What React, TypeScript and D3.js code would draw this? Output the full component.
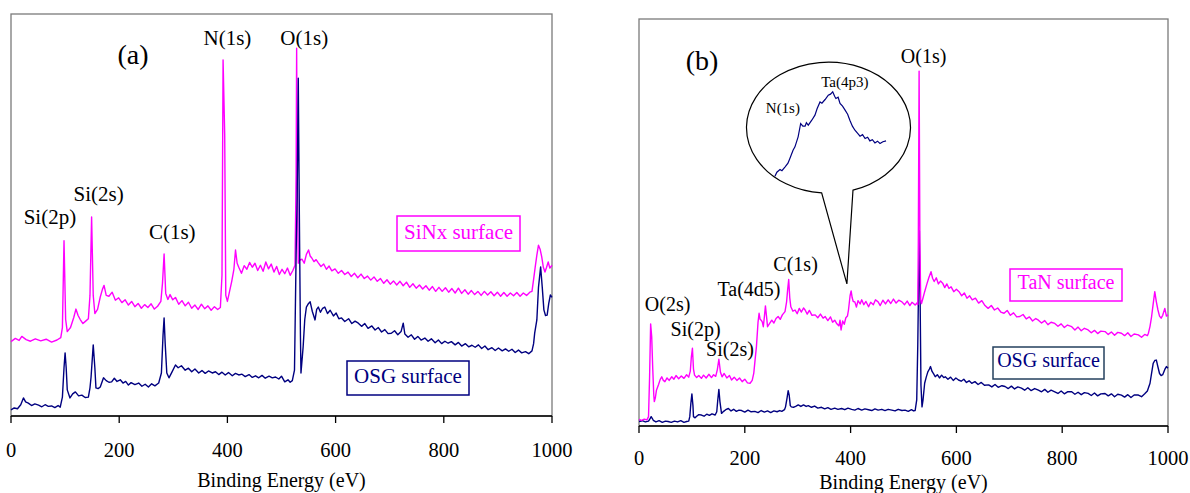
import React from "react";
import * as d3 from "d3";

type P = [number, number];

// Panel (a): SiNx surface vs OSG surface  [binding energy eV, intensity a.u.]
const sinxA: P[] = [[0,18.5],[8,19.3],[15,18.8],[20,19.8],[28,19.0],[36,18.6],[45,19.2],[55,18.7],[65,19.1],[75,18.4],[85,18.9],[92,19.5],[95,22],[98,43.6],[101,24],[104,21.0],[110,22.0],[116,24.5],[120,26.6],[124,25.0],[128,24.0],[133,23.0],[138,23.6],[143,24.2],[146,30],[149,49.5],[152,30],[155,25.5],[160,26.5],[165,29.6],[169,31.5],[172,32.5],[176,30.0],[181,29.8],[187,30.8],[193,28.8],[199,29.4],[205,28.2],[211,28.9],[217,27.6],[223,28.5],[229,27.2],[235,28.0],[241,26.8],[247,27.7],[253,27.0],[259,27.9],[265,26.6],[271,27.3],[277,28.5],[280,33],[283,40.3],[286,30.5],[290,29.0],[294,30.2],[299,28.9],[304,29.5],[310,27.8],[316,28.7],[322,27.4],[328,28.3],[334,26.8],[340,27.6],[346,26.5],[352,27.8],[358,26.7],[364,27.4],[370,26.3],[376,27.2],[382,26.5],[387,27.0],[390,35],[392,88.6],[395,70],[397,30],[400,28.5],[404,31.0],[408,33.5],[412,36.5],[415,41.3],[418,38.0],[421,37.0],[426,35.5],[431,37.4],[436,36.5],[441,38.2],[446,37.0],[451,38.0],[456,36.2],[461,37.5],[466,36.0],[471,38.3],[476,36.6],[481,37.8],[486,35.8],[491,37.2],[496,35.2],[501,36.5],[506,35.4],[511,36.8],[516,35.0],[521,36.2],[525,37.5],[527,60],[528,91.5],[529,60],[531,38],[534,38.8],[538,39.0],[542,38.0],[546,40.2],[550,41.3],[553,39.8],[556,39.3],[560,38.4],[564,38.9],[568,38.1],[573,37.2],[578,37.8],[583,36.5],[588,37.3],[593,36.1],[599,36.6],[605,35.5],[611,36.2],[617,35.2],[623,35.8],[629,34.7],[635,35.5],[641,34.4],[647,35.3],[653,34.2],[659,34.8],[665,33.8],[671,34.6],[677,33.5],[683,34.2],[689,33.0],[695,33.9],[701,32.8],[707,33.6],[713,32.6],[719,33.5],[725,32.4],[731,33.3],[737,32.0],[743,32.9],[749,31.8],[755,32.6],[761,31.6],[767,32.4],[773,31.3],[779,32.2],[785,31.0],[791,32.0],[797,31.0],[803,31.9],[809,30.8],[815,31.7],[821,30.6],[827,31.8],[833,30.5],[839,31.4],[845,30.3],[851,31.2],[857,30.2],[863,31.0],[869,30.0],[875,31.0],[881,30.1],[887,30.9],[893,29.9],[899,30.8],[905,29.8],[911,30.7],[917,29.8],[923,30.6],[929,29.9],[935,30.7],[941,29.8],[947,30.6],[953,30.0],[959,30.8],[963,31.0],[966,34.0],[969,37.1],[972,40.0],[975,42.5],[978,41.5],[981,39.6],[984,37.0],[987,35.8],[990,37.0],[993,38.3],[996,36.8],[1000,37.5]];

const osgA: P[] = [[0,1.5],[6,2.0],[12,1.8],[18,2.8],[23,4.5],[27,3.5],[32,3.2],[38,2.6],[44,3.0],[51,2.7],[57,2.3],[63,2.8],[69,2.4],[75,2.5],[81,2.1],[87,2.6],[91,2.2],[95,4.7],[98,12],[100,15.7],[102,12],[104,6.5],[109,4.5],[114,5.5],[119,6.0],[125,5.0],[131,5.2],[137,4.6],[143,4.7],[146,7],[148,9.7],[152,17.7],[155,12],[157,7.0],[161,6.8],[165,7.2],[171,9.5],[176,8.8],[181,8.4],[186,8.5],[191,9.4],[196,8.6],[202,9.0],[207,8.2],[212,8.6],[217,7.7],[222,8.3],[229,7.8],[236,8.2],[242,7.4],[248,7.9],[254,7.2],[260,8.0],[266,7.5],[273,8.2],[278,10.7],[281,20],[283,24.4],[285,18],[288,10.7],[292,9.5],[297,10.8],[304,12.7],[309,12.0],[315,12.5],[322,11.4],[328,11.9],[334,11.0],[340,11.7],[347,10.7],[353,11.3],[359,10.6],[365,11.2],[372,10.7],[378,11.0],[384,10.3],[390,10.9],[396,10.2],[402,10.8],[409,10.0],[415,10.6],[421,10.2],[427,10.4],[433,9.8],[440,10.3],[446,9.6],[452,10.0],[458,9.5],[464,10.1],[470,9.4],[477,9.9],[483,9.5],[489,9.7],[495,9.2],[500,9.9],[506,8.5],[512,9.0],[516,8.4],[520,8.8],[524,11.4],[527,40],[529,55],[531,84],[533,50],[535,20],[536,10.7],[540,17.2],[543,24],[546,27.1],[550,28.0],[553,28.4],[557,26.0],[562,23.9],[565,26.5],[568,27.1],[572,25.8],[576,26.8],[580,27.1],[585,25.5],[590,26.3],[596,24.9],[601,25.6],[606,24.2],[611,24.4],[617,23.5],[624,24.2],[630,23.0],[636,23.6],[642,23.1],[648,22.3],[654,23.0],[660,21.8],[667,22.4],[673,21.4],[679,22.0],[685,20.9],[691,21.5],[697,20.5],[703,20.6],[709,21.2],[715,20.2],[721,21.0],[725,23.1],[728,20.4],[734,19.6],[740,20.2],[746,19.1],[752,19.8],[758,18.9],[765,19.4],[771,18.6],[777,19.2],[784,18.2],[790,18.9],[796,18.0],[802,18.6],[808,18.1],[814,18.5],[821,17.7],[827,18.3],[833,17.4],[840,18.0],[846,17.2],[852,17.6],[858,17.1],[864,17.7],[870,16.8],[876,17.4],[882,16.5],[889,17.0],[895,16.3],[901,16.9],[908,16.2],[914,16.7],[920,16.1],[926,16.6],[932,15.8],[938,16.4],[944,15.7],[951,16.0],[957,15.5],[963,16.2],[966,18],[968,20.6],[972,23.9],[975,32],[979,37.1],[982,32],[985,26.4],[988,25.0],[991,25.1],[994,28.0],[997,30.1],[1000,29.5]];

// Panel (b): TaN surface vs OSG surface
const tanB: P[] = [[0,1.6],[5,1.4],[10,1.7],[15,1.5],[18,2.3],[20,12],[22,25.1],[24,22],[26,14],[28,7.5],[29,6.0],[31,7.0],[33,8.8],[37,10.2],[40,11.4],[43,12.1],[46,11.2],[49,10.9],[53,11.8],[57,11.2],[62,12.1],[66,11.5],[70,12.4],[75,11.6],[80,12.3],[85,11.7],[90,12.6],[94,12.0],[97,13.5],[99,17],[101,19.1],[103,14],[105,12.5],[109,11.9],[113,12.4],[118,11.7],[122,12.5],[127,11.8],[132,12.7],[137,11.9],[141,12.6],[145,12.2],[148,13.8],[151,16.4],[154,13.2],[157,12.1],[161,12.9],[166,11.8],[171,12.4],[175,11.3],[180,12.0],[185,11.2],[190,11.8],[195,10.9],[200,11.5],[205,10.6],[210,10.5],[214,11.2],[217,13.0],[220,17],[222,19.5],[225,25.5],[227,27.7],[229,26.2],[231,26.0],[233,25.6],[235,24.4],[237,26.8],[239,29.5],[241,27.0],[243,24.4],[247,25.2],[251,26.0],[255,25.3],[259,26.4],[263,26.9],[267,26.2],[271,27.3],[276,28.1],[279,30.5],[281,33.5],[283,36.0],[285,31.5],[287,29.3],[291,28.2],[295,28.5],[299,27.6],[303,28.9],[307,28.0],[311,29.0],[314,28.5],[318,27.5],[322,28.4],[327,27.2],[333,27.3],[338,26.6],[343,27.5],[348,26.5],[352,26.9],[357,25.9],[362,26.8],[366,25.5],[370,26.0],[374,25.1],[378,24.6],[380,26.0],[382,23.6],[385,25.8],[388,25.0],[391,26.6],[394,27.0],[396,28.5],[399,32.0],[401,33.2],[403,31.5],[405,30.6],[408,30.5],[411,29.2],[414,30.8],[418,30.0],[421,31.0],[425,29.8],[429,30.6],[434,29.3],[438,30.4],[443,29.8],[447,31.0],[452,30.5],[456,29.6],[461,30.9],[466,30.0],[471,31.0],[476,30.1],[481,31.2],[486,30.2],[491,30.9],[497,30.5],[502,29.8],[507,30.7],[512,29.6],[516,30.4],[519,30.1],[522,29.7],[525,30.2],[527,29.8],[528,45],[529.5,87.2],[531,45],[532.5,31],[534,30.1],[537,31.5],[540,33.0],[544,34.8],[548,36.5],[552,37.9],[555,36.3],[558,35.5],[562,36.4],[566,34.9],[570,35.6],[574,35.1],[578,34.0],[582,34.9],[586,33.8],[590,34.2],[595,33.0],[600,33.6],[605,33.0],[610,32.0],[615,32.7],[620,31.4],[625,32.0],[630,31.0],[636,31.4],[642,30.2],[648,30.8],[654,29.6],[660,28.9],[666,29.6],[672,28.5],[678,29.0],[684,28.0],[690,27.7],[696,28.4],[702,27.2],[708,27.8],[714,26.8],[720,26.9],[726,27.4],[732,26.3],[738,26.8],[744,25.8],[750,26.4],[755,26.0],[761,25.3],[767,25.9],[773,24.9],[779,25.5],[786,25.2],[792,24.5],[798,25.1],[804,24.2],[810,24.8],[818,24.4],[824,23.6],[830,24.3],[836,23.4],[842,24.0],[849,23.6],[855,22.9],[861,23.5],[867,22.7],[873,23.3],[881,23.2],[887,22.5],[893,23.1],[899,22.3],[905,23.0],[912,22.8],[918,22.2],[924,22.9],[930,22.0],[936,22.6],[944,22.4],[950,21.8],[956,22.5],[961,22.2],[963,22.8],[966,24.5],[969,26.9],[972,30.0],[975,33.0],[978,30.5],[981,28.5],[984,27.0],[987,26.5],[990,27.2],[994,28.9],[997,27.0],[1000,27.3]];

const osgB: P[] = [[0,1.1],[6,1.3],[12,1.0],[18,1.2],[21,1.8],[23,2.3],[25,1.9],[27,1.4],[32,1.0],[38,1.3],[44,0.9],[50,1.2],[55,1.1],[61,0.9],[67,1.2],[73,1.0],[79,1.3],[85,0.9],[90,1.1],[94,1.2],[96,2.3],[98,5.5],[100,7.9],[102,5.0],[103,2.3],[106,2.0],[109,2.4],[113,2.8],[118,2.7],[123,2.4],[128,2.9],[133,2.6],[138,3.0],[144,2.7],[147,3.5],[149,6.5],[151,9.0],[153,6.0],[156,3.1],[160,3.6],[164,4.0],[169,4.3],[174,3.7],[179,4.1],[184,3.6],[189,3.9],[194,3.8],[200,3.4],[206,3.9],[212,3.5],[219,3.6],[225,3.3],[231,3.8],[237,3.4],[243,3.7],[249,3.3],[255,3.7],[261,3.5],[266,3.8],[270,3.6],[275,4.0],[277,4.7],[280,7.0],[282,8.7],[284,7.5],[286,5.0],[288,4.7],[292,4.6],[297,4.9],[301,5.2],[306,4.8],[311,5.2],[316,4.8],[320,5.0],[326,4.6],[332,4.9],[338,4.4],[345,4.6],[351,4.2],[357,4.5],[363,4.1],[370,4.4],[376,4.1],[383,4.3],[389,4.0],[395,4.4],[402,4.1],[408,3.9],[414,4.3],[421,3.9],[427,4.2],[434,4.0],[440,3.8],[446,4.2],[452,3.9],[459,4.1],[465,3.8],[471,4.1],[478,3.9],[484,3.7],[490,4.1],[497,3.8],[503,3.9],[509,3.6],[515,4.0],[519,3.7],[522,3.8],[525,6.4],[527,20],[528.5,35],[530,48],[531.5,30],[533,10],[535,4.7],[537,6.5],[540,10.5],[543,12.0],[546,13.3],[549,14.0],[551,14.6],[554,13.4],[557,12.8],[560,12.1],[564,12.6],[568,11.8],[572,12.5],[576,11.9],[579,12.1],[584,11.5],[589,12.0],[594,11.2],[599,11.8],[604,11.3],[609,11.0],[614,11.5],[619,10.7],[624,11.1],[629,10.5],[635,10.9],[641,10.2],[647,10.7],[653,10.0],[661,10.1],[667,9.6],[673,10.2],[679,9.5],[686,9.9],[692,9.7],[698,9.2],[704,9.8],[710,9.1],[716,9.6],[723,9.3],[729,8.8],[735,9.4],[741,8.7],[748,9.2],[755,8.8],[761,8.4],[767,9.0],[773,8.3],[779,8.8],[786,8.4],[792,8.0],[798,8.6],[804,7.9],[810,8.4],[818,8.4],[824,7.8],[830,8.3],[836,7.7],[842,8.2],[849,8.0],[855,7.5],[861,8.1],[867,7.4],[873,7.9],[881,8.0],[887,7.4],[893,7.9],[899,7.2],[905,7.8],[912,7.6],[918,7.1],[924,7.7],[930,7.0],[936,7.6],[944,7.6],[950,7.2],[956,7.9],[961,8.6],[966,10.5],[969,13.0],[972,15.4],[975,16.1],[978,16.2],[981,14.5],[984,12.9],[987,12.4],[990,12.6],[994,13.9],[997,14.6],[1000,14.2]];

// Inset in panel (b): OSG detail around N(1s)/Ta(4p3)
const insetOsg: P[] = [[385.0,4.3],[385.6,8.7],[386.6,11.6],[387.2,10.3],[388.2,14.5],[389.1,18.5],[389.7,23.6],[390.7,32.6],[391.3,36.2],[392.3,47.1],[393.1,61.6],[393.8,58.7],[394.5,58.7],[394.9,62.5],[395.5,59.8],[396.6,65.2],[397.6,70.7],[398.3,77.9],[399.2,85.1],[399.8,83.7],[400.8,87.7],[401.8,92.4],[402.5,93.5],[403.2,96.0],[403.8,91.3],[404.2,88.8],[404.9,90.2],[405.5,83.4],[406.3,80.4],[407.1,76.1],[407.9,71.7],[408.6,65.2],[409.4,58.7],[410.2,54.3],[411.0,51.1],[411.8,47.8],[412.6,49.5],[413.4,45.3],[414.2,46.7],[414.9,42.7],[415.7,44.0],[416.5,40.5],[417.3,42.4],[418.1,39.9],[419.0,41.8],[420.0,42.7]];

const xTicks = [0, 200, 400, 600, 800, 1000];
const xTitle = "Binding Energy (eV)";

type Ann = { text: string; e: number; v: number };
const annA: Ann[] = [
  { text: "Si(2p)", e: 72, v: 47.8 },
  { text: "Si(2s)", e: 162, v: 53.5 },
  { text: "C(1s)", e: 298, v: 44.0 },
  { text: "N(1s)", e: 400, v: 92.3 },
  { text: "O(1s)", e: 542, v: 92.3 },
];
const annB: Ann[] = [
  { text: "O(2s)", e: 54, v: 28.2 },
  { text: "Si(2p)", e: 107, v: 22.1 },
  { text: "Si(2s)", e: 172, v: 17.2 },
  { text: "Ta(4d5)", e: 208, v: 31.9 },
  { text: "C(1s)", e: 296, v: 38.0 },
  { text: "O(1s)", e: 538, v: 89.2 },
];

const MAG = "#FF00FF";
const NAVY = "#000080";
const FONT = "'Liberation Serif', 'Times New Roman', Times, serif";

function Panel(props: {
  left: number; right: number; top: number; bottom: number;
  label: string; labelPos: [number, number];
  series: { data: P[]; color: string }[];
  ann: Ann[]; fs: number; tickBase: number; titleBase: number;
  legends: { text: string; color: string; stroke: string; box: [number, number, number, number] }[];
  extra?: (x: d3.ScaleLinear<number, number>, y: d3.ScaleLinear<number, number>) => React.ReactNode;
}) {
  const { left, right, top, bottom } = props;
  const x = d3.scaleLinear().domain([0, 1000]).range([left, right]);
  const y = d3.scaleLinear().domain([0, 100]).range([bottom, top]);
  const line = d3.line<P>().x((d) => x(d[0])).y((d) => y(d[1]));
  return (
    <g>
      <rect x={left} y={top} width={right - left} height={bottom - top} fill="white" stroke="#7a7a7a" strokeWidth={1.3} />
      {props.series.map((s, i) => (
        <path key={i} d={line(s.data) || ""} fill="none" stroke={s.color} strokeWidth={1.4} strokeLinejoin="round" />
      ))}
      <line x1={left} x2={right} y1={bottom} y2={bottom} stroke="black" strokeWidth={1.6} />
      {xTicks.map((t) => (
        <g key={t}>
          <line x1={x(t)} x2={x(t)} y1={bottom} y2={bottom + 7} stroke="black" strokeWidth={1.3} />
          <text x={x(t)} y={props.tickBase} textAnchor="middle" fontSize={20.5} fontFamily={FONT}>{t}</text>
        </g>
      ))}
      <text x={(left + right) / 2} y={props.titleBase} textAnchor="middle" fontSize={20} fontFamily={FONT}>{xTitle}</text>
      <text x={props.labelPos[0]} y={props.labelPos[1]} textAnchor="middle" fontSize={28} fontFamily={FONT}>{props.label}</text>
      {props.ann.map((a) => (
        <text key={a.text + a.e} x={x(a.e)} y={y(a.v)} textAnchor="middle" fontSize={props.fs} fontFamily={FONT}>{a.text}</text>
      ))}
      {props.legends.map((l) => {
        const [x0, y0, x1, y1] = l.box;
        return (
          <g key={l.text}>
            <rect x={x0} y={y0} width={x1 - x0} height={y1 - y0} fill="white" stroke={l.stroke} strokeWidth={1.5} />
            <text x={(x0 + x1) / 2} y={y1 - 12} textAnchor="middle" fontSize={props.fs} fill={l.color} fontFamily={FONT}>{l.text}</text>
          </g>
        );
      })}
      {props.extra ? props.extra(x, y) : null}
    </g>
  );
}

function Callout(x: d3.ScaleLinear<number, number>, y: d3.ScaleLinear<number, number>) {
  // ellipse in panel-(b) data units
  const cx = x(358.2), cy = y(73.3);
  const rx = x(358.2 + 155) - cx, ry = cy - y(73.3 + 16.1);
  const baseAt = (e: number) => {
    const px = x(e);
    const t = (px - cx) / rx;
    return [px, cy + ry * Math.sqrt(1 - t * t)];
  };
  const [lx, ly] = baseAt(345.4);
  const [rxp, ryp] = baseAt(404.5);
  const tipX = x(393), tipY = y(34.9);
  const d = `M${lx},${ly} A${rx},${ry} 0 1 1 ${rxp},${ryp} L${tipX},${tipY} Z`;
  const ix = d3.scaleLinear().domain([385, 420]).range([x(257), x(467)]);
  const iy = d3.scaleLinear().domain([0, 100]).range([y(60.4), y(83.0)]);
  const il = d3.line<P>().x((d) => ix(d[0])).y((d) => iy(d[1]));
  return (
    <g>
      <path d={d} fill="white" stroke="black" strokeWidth={1.2} />
      <path d={il(insetOsg) || ""} fill="none" stroke={NAVY} strokeWidth={1.2} />
      <text x={ix(387.5)} y={iy(73)} textAnchor="middle" fontSize={15} fontFamily={FONT}>N(1s)</text>
      <text x={ix(407)} y={iy(101)} textAnchor="middle" fontSize={15} fontFamily={FONT}>Ta(4p3)</text>
    </g>
  );
}

export default function App() {
  return (
    <svg width={1190} height={493} style={{ position: "absolute", left: 0, top: 0, background: "white" }}>
      <rect x={0} y={0} width={1190} height={493} fill="white" />
      <Panel
        left={11} right={552} top={14} bottom={416}
        label="(a)" labelPos={[133, 64]}
        series={[{ data: sinxA, color: MAG }, { data: osgA, color: NAVY }]}
        ann={annA} fs={21} tickBase={457} titleBase={487}
        legends={[
          { text: "SiNx surface", color: MAG, stroke: MAG, box: [397, 216, 520, 251] },
          { text: "OSG surface", color: NAVY, stroke: NAVY, box: [347, 361, 469, 395] },
        ]}
      />
      <Panel
        left={639} right={1168} top={19} bottom={426}
        label="(b)" labelPos={[702, 70]}
        series={[{ data: osgB, color: NAVY }, { data: tanB, color: MAG }]}
        ann={annB} fs={20} tickBase={465} titleBase={489}
        legends={[
          { text: "TaN surface", color: MAG, stroke: MAG, box: [1010, 269, 1122, 301] },
          { text: "OSG surface", color: NAVY, stroke: "#24405e", box: [993, 347, 1104, 379] },
        ]}
        extra={Callout}
      />
    </svg>
  );
}
